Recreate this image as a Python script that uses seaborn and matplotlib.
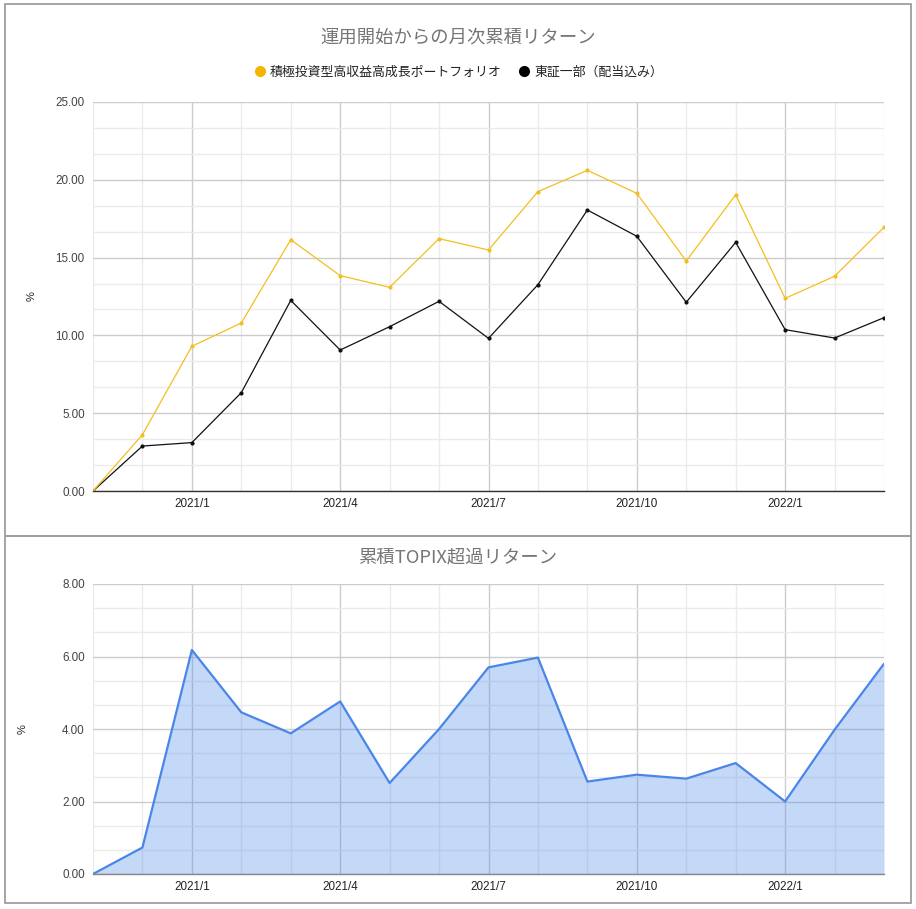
import numpy as np
import pandas as pd
import matplotlib
matplotlib.use("Agg")
import matplotlib.pyplot as plt
from matplotlib.lines import Line2D
from matplotlib.patches import Rectangle
import seaborn as sns

months = ["2020/11", "2020/12", "2021/1", "2021/2", "2021/3", "2021/4", "2021/5",
          "2021/6", "2021/7", "2021/8", "2021/9", "2021/10", "2021/11", "2021/12",
          "2022/1", "2022/2", "2022/3"]
portfolio = [0.00, 3.62, 9.30, 10.80, 16.15, 13.84, 13.09, 16.22, 15.49, 19.24,
             20.61, 19.13, 14.78, 19.04, 12.38, 13.80, 16.95]
topix = [0.00, 2.89, 3.11, 6.32, 12.25, 9.06, 10.56, 12.19, 9.81, 13.26,
         18.06, 16.37, 12.13, 15.98, 10.37, 9.83, 11.14]
excess = [0.00, 0.73, 6.18, 4.46, 3.88, 4.76, 2.51, 4.00, 5.70, 5.97,
          2.55, 2.74, 2.63, 3.06, 2.00, 3.98, 5.80]
series_names = ["積極投資型高収益高成長ポートフォリオ", "東証一部（配当込み）"]
title_top = "運用開始からの月次累積リターン"
title_bottom = "累積TOPIX超過リターン"
y_label = "%"

sns.set_theme(style="white")
plt.rcParams['font.family'] = ['Liberation Sans', 'Noto Sans CJK JP', 'DejaVu Sans']

W, H = 916, 909
fig = plt.figure(figsize=(W / 100, H / 100), dpi=100)

def fx(px):
    return px / W

def fy(py):
    return 1 - py / H

idx = np.arange(len(months))
df = pd.DataFrame({
    "idx": np.concatenate([idx, idx]),
    "value": portfolio + topix,
    "series": [series_names[0]] * len(idx) + [series_names[1]] * len(idx),
})
df_ex = pd.DataFrame({"idx": idx, "value": excess})

major_ticks = [i for i, m in enumerate(months) if m.split("/")[1] in ("1", "4", "7", "10")]
major_labels = [months[i] for i in major_ticks]

YELLOW = "#f4b400"
LINE_YELLOW = "#f3bf1f"
BLUE = "#4a86e8"
MAJ = "#cccccc"
MIN = "#ebebeb"

def style_axes(ax, ymax, ystep, axis_color):
    ax.set_xlim(0, len(months) - 1)
    ax.set_ylim(0, ymax)
    yt = np.arange(0, ymax + 0.001, ystep)
    ax.set_yticks(yt)
    ax.set_yticklabels([f"{v:.2f}" for v in yt])
    ax.set_yticks(np.arange(0, ymax + 0.001, ystep / 3), minor=True)
    ax.set_xticks(major_ticks)
    ax.set_xticklabels(major_labels)
    ax.set_xticks(idx, minor=True)
    ax.grid(True, which="major", color=MAJ, linewidth=1.0, zorder=0)
    ax.grid(True, which="minor", color=MIN, linewidth=1.0, zorder=0)
    ax.set_axisbelow(True)
    for s in ["top", "right", "left"]:
        ax.spines[s].set_visible(False)
    ax.spines["bottom"].set_color(axis_color)
    ax.spines["bottom"].set_linewidth(1.0)
    ax.spines["bottom"].set_zorder(5)
    ax.tick_params(axis="both", which="both", length=0)
    ax.tick_params(axis="y", labelsize=8.4, labelcolor="#444444", pad=6)
    ax.tick_params(axis="x", labelsize=8.4, labelcolor="#222222", pad=5)
    ax.set_xlabel("")
    ax.set_ylabel(y_label, fontsize=8, color="#222222")

# Top chart
ax1 = fig.add_axes([fx(93), fy(491), fx(884) - fx(93), fy(102) - fy(491)])
sns.lineplot(data=df, x="idx", y="value", hue="series",
             palette={series_names[0]: LINE_YELLOW, series_names[1]: "#111111"},
             hue_order=series_names[::-1],
             marker="o", markersize=3, markeredgewidth=0, linewidth=0.9,
             legend=False, ax=ax1)
style_axes(ax1, 25, 5, "#333333")
ax1.yaxis.set_label_coords(fx(37 - 93) / (fx(884) - fx(93)), 0.5)

# Bottom chart
ax2 = fig.add_axes([fx(93), fy(874), fx(884) - fx(93), fy(584) - fy(874)])
ax2.fill_between(df_ex["idx"], df_ex["value"], 0, color=BLUE, alpha=0.32,
                 linewidth=0, zorder=2)
sns.lineplot(data=df_ex, x="idx", y="value", color=BLUE, linewidth=1.6, ax=ax2)
style_axes(ax2, 8, 2, "#888888")
ax2.yaxis.set_label_coords(fx(28 - 93) / (fx(884) - fx(93)), 0.5)

# Titles
fig.text(0.5, fy(38), title_top, ha="center", va="center", fontsize=13.2, color="#757575",
         family=['Noto Sans CJK JP', 'DejaVu Sans'])
fig.text(fx(458), fy(558), title_bottom, ha="center", va="center", fontsize=13.2, color="#757575",
         family=['Noto Sans CJK JP', 'DejaVu Sans'])

# Legend
handles = [Line2D([], [], marker="o", linestyle="none", markersize=8, markeredgewidth=0,
                  color=YELLOW),
           Line2D([], [], marker="o", linestyle="none", markersize=8, markeredgewidth=0,
                  color="#000000")]
leg = fig.legend(handles, series_names, loc="center", bbox_to_anchor=(fx(458), fy(72)),
                 ncol=2, frameon=False, handletextpad=0.3, columnspacing=1.2,
                 handlelength=1.0, prop={"family": ['Noto Sans CJK JP', 'DejaVu Sans'], "size": 9.3})
for t in leg.get_texts():
    t.set_color("#222222")

# Panel borders
for (x0, y0, x1, y1) in [(4.5, 4, 911, 536), (4.5, 536, 911, 903)]:
    fig.patches.append(Rectangle((fx(x0), fy(y1)), fx(x1) - fx(x0), fy(y0) - fy(y1),
                                 transform=fig.transFigure, fill=False,
                                 edgecolor="#9e9e9e", linewidth=1.3))

fig.savefig("out.png", dpi=100, facecolor="white")
